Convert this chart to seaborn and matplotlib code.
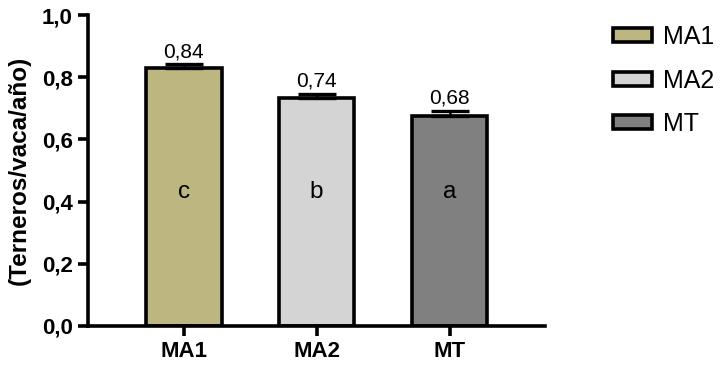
import matplotlib
matplotlib.use("Agg")
import matplotlib.pyplot as plt
import seaborn as sns
import pandas as pd
from matplotlib import font_manager
from matplotlib.ticker import FuncFormatter

groups = ["MA1", "MA2", "MT"]
means = [0.830, 0.732, 0.676]
errors = [0.012, 0.015, 0.016]
value_labels = ["0,84", "0,74", "0,68"]
letters = ["c", "b", "a"]
colors = ["#BDB680", "#D4D4D4", "#808080"]

df = pd.DataFrame({"grupo": groups, "valor": means, "error": errors})

sns.set_theme(style="ticks")
plt.rcParams["font.family"] = ["Liberation Sans", "DejaVu Sans"]
for k in ["text.color", "axes.labelcolor", "xtick.color", "ytick.color", "axes.edgecolor"]:
    plt.rcParams[k] = "black"

# make sure the bold text uses the regular-width Liberation Sans, not the narrow one
bold_file = None
for f in font_manager.fontManager.ttflist:
    if f.name == "Liberation Sans" and f.weight in (700, "bold") and f.style == "normal":
        bold_file = f.fname
bold = font_manager.FontProperties(fname=bold_file) if bold_file else font_manager.FontProperties(family="Liberation Sans", weight="bold")

fig = plt.figure(figsize=(7.27, 3.79), dpi=100)
ax = fig.add_axes([0.121, 0.140, 0.629, 0.820])

sns.barplot(
    data=df,
    x="grupo",
    y="valor",
    hue="grupo",
    palette=colors,
    saturation=1,
    width=0.57,
    edgecolor="black",
    linewidth=2.6,
    errorbar=None,
    legend=True,
    ax=ax
)

ax.errorbar(
    range(len(groups)),
    df["valor"],
    yerr=[[0] * len(groups), df["error"]],
    fmt="none",
    ecolor="black",
    elinewidth=1.8,
    capsize=14,
    capthick=2.4,
    zorder=1
)

for i, (m, e) in enumerate(zip(means, errors)):
    ax.text(i, m + e + 0.01, value_labels[i], ha="center", va="bottom", fontsize=15)
    ax.text(i, 0.43, letters[i], ha="center", va="center", fontsize=17.5)

ax.set_xlim(-0.72, 2.72)
ax.set_ylim(0, 1.0)
ax.set_yticks([0, 0.2, 0.4, 0.6, 0.8, 1.0])
ax.yaxis.set_major_formatter(FuncFormatter(lambda v, p: f"{v:.1f}".replace(".", ",")))
ax.set_xlabel("")
ylab_fp = bold.copy()
ylab_fp.set_size(17.5)
ax.set_ylabel("(Terneros/vaca/año)", fontproperties=ylab_fp, labelpad=8)

tick_fp = bold.copy()
tick_fp.set_size(16)
for lab in ax.get_xticklabels() + ax.get_yticklabels():
    lab.set_fontproperties(tick_fp)

sns.despine(ax=ax)
for s in ["left", "bottom"]:
    ax.spines[s].set_linewidth(2.6)
ax.tick_params(axis="both", width=2.6, length=7, color="black", pad=4)

leg = ax.legend(
    loc="upper left",
    bbox_to_anchor=(1.10, 1.04),
    frameon=False,
    fontsize=18,
    handlelength=1.55,
    handleheight=0.5,
    labelspacing=0.78,
    handletextpad=0.45
)
for h in leg.legend_handles:
    h.set_edgecolor("black")
    h.set_linewidth(2.6)

fig.savefig("out.png", dpi=100)
